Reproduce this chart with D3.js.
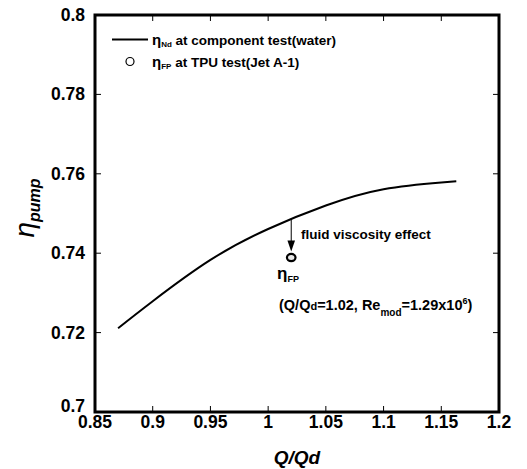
<!DOCTYPE html>
<html><head><meta charset="utf-8">
<script src="https://cdn.jsdelivr.net/npm/d3@7"></script>
<style>body{margin:0;background:#fff}svg{display:block;font-family:"Liberation Sans",Arial,sans-serif;font-weight:bold}</style>
</head><body><svg id="c" width="527" height="469"></svg>
<script>
const curveQ   = [0.87, 0.90, 0.95, 1.00, 1.05, 1.10, 1.15, 1.163];
const curveEta = [0.7211, 0.7279, 0.7383, 0.7461, 0.7520, 0.7561, 0.7578, 0.7581];
const pointQ = [1.02];
const pointEta = [0.7389];
const xTicks = [0.85, 0.9, 0.95, 1, 1.05, 1.1, 1.15, 1.2];
const yTicks = [0.7, 0.72, 0.74, 0.76, 0.78, 0.8];

const svg = d3.select("#c");
const L = 95, R = 499, T = 15, B = 412;
const x = d3.scaleLinear().domain([0.85, 1.2]).range([L, R]);
const y = d3.scaleLinear().domain([0.7, 0.8]).range([B, T]);

const tk = 6;
const gx = svg.append("g");
xTicks.forEach(v => {
  gx.append("line").attr("x1", x(v)).attr("x2", x(v)).attr("y1", B).attr("y2", B - tk).attr("stroke", "#000").attr("stroke-width", 1);
  gx.append("line").attr("x1", x(v)).attr("x2", x(v)).attr("y1", T).attr("y2", T + tk).attr("stroke", "#000").attr("stroke-width", 1);
  gx.append("text").attr("x", x(v)).attr("y", B + 16).attr("text-anchor", "middle").attr("font-size", 17.5).text(d3.format("")(v));
});
yTicks.forEach((v, i) => {
  gx.append("line").attr("y1", y(v)).attr("y2", y(v)).attr("x1", L).attr("x2", L + tk).attr("stroke", "#000").attr("stroke-width", 1);
  gx.append("line").attr("y1", y(v)).attr("y2", y(v)).attr("x1", R).attr("x2", R - tk).attr("stroke", "#000").attr("stroke-width", 1);
  gx.append("text").attr("x", L - 10).attr("y", y(v) + (i === 0 ? 0 : 6)).attr("text-anchor", "end").attr("font-size", 17.5).text(d3.format("")(v));
});
svg.append("rect").attr("x", L).attr("y", T).attr("width", R - L).attr("height", B - T)
  .attr("fill", "none").attr("stroke", "#000").attr("stroke-width", 3);

const data = curveQ.map((q, i) => [q, curveEta[i]]);
svg.append("path").datum(data)
  .attr("d", d3.line().x(d => x(d[0])).y(d => y(d[1])).curve(d3.curveNatural))
  .attr("fill", "none").attr("stroke", "#000").attr("stroke-width", 2);

const ax = x(pointQ[0]);
const yTop = y(0.7487), yPt = y(pointEta[0]);
svg.append("line").attr("x1", ax).attr("x2", ax).attr("y1", yTop).attr("y2", yPt - 14).attr("stroke", "#000").attr("stroke-width", 1);
svg.append("path").attr("d", `M${ax-3.8},${yPt-17} L${ax+3.8},${yPt-17} L${ax},${yPt-6} Z`).attr("fill", "#000");

pointQ.forEach((q, i) => {
  svg.append("ellipse").attr("cx", x(q)).attr("cy", y(pointEta[i])).attr("rx", 4.3).attr("ry", 3.6)
    .attr("fill", "#e8e8e8").attr("stroke", "#000").attr("stroke-width", 2.2);
});

svg.append("text").attr("x", 301).attr("y", 239).attr("font-size", 13.5).text("fluid viscosity effect");
const t1 = svg.append("text").attr("x", 277).attr("y", 279).attr("font-size", 17);
t1.append("tspan").text("η");
t1.append("tspan").attr("font-size", 9).attr("dy", 3).text("FP");
const t2 = svg.append("text").attr("x", 279).attr("y", 310).attr("font-size", 14.5);
t2.append("tspan").text("(Q/Q");
t2.append("tspan").attr("font-size", 11).text("d");
t2.append("tspan").text("=1.02, Re");
t2.append("tspan").attr("font-size", 10).attr("dy", 6).text("mod");
t2.append("tspan").attr("dy", -6).text("=1.29x10");
t2.append("tspan").attr("font-size", 9).attr("dy", -6).text("6");
t2.append("tspan").attr("dy", 6).text(")");

svg.append("line").attr("x1", 112).attr("x2", 148).attr("y1", 39.5).attr("y2", 39.5).attr("stroke", "#000").attr("stroke-width", 2);
const l1 = svg.append("text").attr("x", 152).attr("y", 45).attr("font-size", 13.5);
l1.append("tspan").attr("font-size", 15).text("η");
l1.append("tspan").attr("font-size", 8).attr("dy", 2).text("Nd");
l1.append("tspan").attr("dy", -2).text(" at component test(water)");
svg.append("circle").attr("cx", 130).attr("cy", 61.5).attr("r", 4).attr("fill", "#fff").attr("stroke", "#000").attr("stroke-width", 1.2);
const l2 = svg.append("text").attr("x", 152).attr("y", 67).attr("font-size", 13.5);
l2.append("tspan").attr("font-size", 15).text("η");
l2.append("tspan").attr("font-size", 8).attr("dy", 2).text("FP");
l2.append("tspan").attr("dy", -2).text(" at TPU test(Jet A-1)");

svg.append("text").attr("x", (L + R) / 2).attr("y", 464).attr("text-anchor", "middle").attr("font-size", 19).attr("font-style", "italic").text("Q/Qd");
const yt = svg.append("text").attr("transform", "translate(34,208) rotate(-90)").attr("text-anchor", "middle").attr("font-style", "italic");
yt.append("tspan").attr("font-size", 28).attr("font-weight", "normal").text("η");
yt.append("tspan").attr("font-size", 16).attr("dy", 6).text("pump");
</script></body></html>
